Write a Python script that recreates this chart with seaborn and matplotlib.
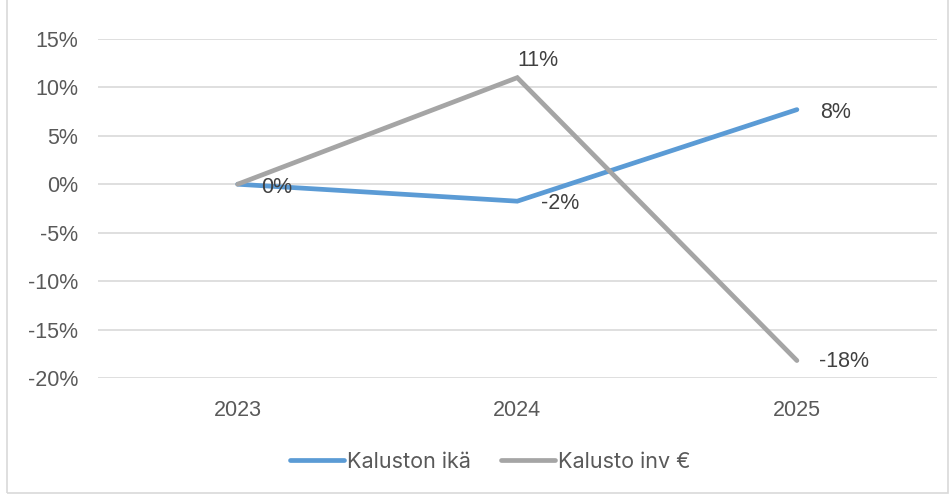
import matplotlib
matplotlib.use("Agg")
import matplotlib.pyplot as plt
import matplotlib.patches as mpatches
import seaborn as sns
import pandas as pd
from matplotlib.ticker import PercentFormatter

# data
years = ["2023", "2024", "2025"]
kaluston_ika = [0.0, -0.0175, 0.077]
kalusto_inv = [0.0, 0.11, -0.182]
series_names = ["Kaluston ikä", "Kalusto inv €"]
ika_labels = ["0%", "-2%", "8%"]
inv_labels = ["", "11%", "-18%"]

df = pd.DataFrame({
    "Vuosi": years * 2,
    "Muutos": kaluston_ika + kalusto_inv,
    "Sarja": [series_names[0]] * 3 + [series_names[1]] * 3,
})

sns.set_style("white")
plt.rcParams["font.family"] = ["Liberation Sans", "DejaVu Sans"]
plt.rcParams["axes.unicode_minus"] = False

fig = plt.figure(figsize=(9.5, 4.95), dpi=100)
ax = fig.add_axes([0.103, 0.2364, 0.883, 0.685])

sns.lineplot(data=df, x="Vuosi", y="Muutos", hue="Sarja",
             palette=["#5B9BD5", "#A5A5A5"], linewidth=3.4, ax=ax,
             legend=False, solid_capstyle="round", solid_joinstyle="miter")

ax.set_ylim(-0.20, 0.15)
ax.set_xlim(-0.5, 2.5)
ax.set_yticks([-0.20, -0.15, -0.10, -0.05, 0.0, 0.05, 0.10, 0.15])
ax.yaxis.set_major_formatter(PercentFormatter(1.0, decimals=0))
ax.grid(axis="y", color="#D9D9D9", linewidth=1.2)
ax.set_axisbelow(True)
for s in ax.spines.values():
    s.set_visible(False)
ax.tick_params(axis="both", length=0, labelsize=15.5, colors="#595959")
ax.tick_params(axis="y", pad=14)
ax.tick_params(axis="x", pad=16)
ax.set_xlabel("")
ax.set_ylabel("")

# data labels
lab_kw = dict(textcoords="offset points", va="center", fontsize=15.5, color="#404040")
for i, lab in enumerate(ika_labels):
    ax.annotate(lab, (i, kaluston_ika[i]), xytext=(17, -2), ha="left", **lab_kw)
for i, lab in enumerate(inv_labels):
    if not lab:
        continue
    if i == 1:
        ax.annotate(lab, (i, kalusto_inv[i]), xytext=(15, 12), ha="center", **lab_kw)
    else:
        ax.annotate(lab, (i, kalusto_inv[i]), xytext=(16, -1), ha="left", **lab_kw)

handles = [plt.Line2D([0], [0], color=c, lw=3.4, solid_capstyle="round")
           for c in ["#5B9BD5", "#A5A5A5"]]
leg = fig.legend(handles, series_names, loc="center", bbox_to_anchor=(0.516, 0.067),
                 ncol=2, frameon=False, fontsize=15.5, handlelength=2.5,
                 handletextpad=0.15, columnspacing=1.4)
for t in leg.get_texts():
    t.set_color("#595959")
    t.set_family(["Inter", "DejaVu Sans"])

fig.patches.append(mpatches.Rectangle((7 / 950, 0.004), 0.99, 1.0, transform=fig.transFigure,
                                      fill=False, edgecolor="#D9D9D9", linewidth=1.2))

fig.savefig("out.png", dpi=100)
